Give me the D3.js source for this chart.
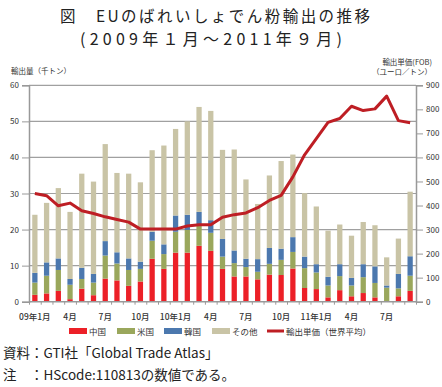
<!DOCTYPE html>
<html><head><meta charset="utf-8">
<script src="https://cdn.jsdelivr.net/npm/d3@7"></script>
<style>
body{margin:0;background:#fff;}
svg{display:block;font-family:"Noto Sans CJK JP","Noto Sans",sans-serif;}
</style></head>
<body><svg id="c" width="442" height="387"></svg>
<script>
const months = d3.range(33);
const tickLabels = ["09年1月","4月","7月","10月","10年1月","4月","7月","10月","11年1月","4月","7月"];
const china = [1.9,2.3,3.0,0.7,3.6,1.8,6.4,5.9,4.4,5.6,11.9,9.1, 13.6,13.6,15.5,14.1,9.1,7.0,7.0,6.2,7.5,7.4,9.2,3.8, 3.5,1.2,3.2,1.5,2.4,1.2,0,1.5,3.0];
const usa = [3.4,4.9,5.8,4.0,2.7,3.5,6.4,4.7,4.4,3.5,5.0,4.1, 5.8,6.3,5.6,5.0,3.4,3.7,2.6,2.1,3.0,4.2,4.6,5.5, 4.6,3.3,3.9,3.0,4.4,4.0,3.9,2.2,4.2];
const korea = [2.7,3.7,3.2,1.6,3.1,2.4,4.0,3.1,3.2,2.0,2.5,2.7, 4.5,4.2,3.8,3.5,4.9,3.5,2.3,3.5,4.4,3.1,4.1,3.2, 2.3,2.4,3.3,2.1,3.6,4.6,0.6,4.0,5.4];
const total = [24.1,27.4,31.5,24.9,35.5,33.3,43.7,35.7,35.5,33.1,42.0,43.3, 47.9,50.0,54.0,52.9,42.1,42.2,33.9,27.1,35.0,39.0,40.8,30.1, 26.4,19.7,21.4,18.3,22.1,21.2,12.3,17.5,30.5];
const price = [450,441,399,410,378,367,353,342,331,302,302,302, 302,315,320,320,351,362,369,391,421,442,519,611, 678,746,762,813,795,802,855,753,744];
const seriesNames = ["中国","米国","韓国","その他"];
const colors = ["#EC2027","#9AA75C","#4C78AE","#C9C4A6"];
const lineName = "輸出単価（世界平均）";
const lineColor = "#BE1E24";
const leftTicks = [0,10,20,30,40,50,60];
const rightTicks = [0,100,200,300,400,500,600,700,800,900];

const svg = d3.select("#c");
const L=29, R=416, T=85.3, B=301.7;
const x = d3.scaleBand().domain(months).range([L,R]).paddingInner(0.55).paddingOuter(0.275);
const y = d3.scaleLinear().domain([0,60]).range([B,T]);
const y2 = d3.scaleLinear().domain([0,900]).range([B,T]);

const other = total.map((t,i)=>+(t-china[i]-usa[i]-korea[i]).toFixed(2));
const rows = months.map(i=>({i, c:china[i], u:usa[i], k:korea[i], o:other[i]}));
const stack = d3.stack().keys(["c","u","k","o"])(rows);

// title
svg.append("text").attr("x",60).attr("y",21.5).attr("font-size",15.5).attr("fill","#222")
  .attr("textLength",310).attr("lengthAdjust","spacing").text("図　EUのばれいしょでん粉輸出の推移");
svg.append("text").attr("x",80).attr("y",44.5).attr("font-size",16).attr("fill","#222")
  .attr("textLength",262).attr("lengthAdjust","spacing").text("(2009年１月～2011年９月)");

// gridlines
svg.append("g").selectAll("line").data(leftTicks.slice(1)).join("line")
  .attr("x1",L).attr("x2",R).attr("y1",d=>y(d)).attr("y2",d=>y(d))
  .attr("stroke","#a0a0a0").attr("stroke-width",1.2);

// bars
svg.append("g").selectAll("g").data(stack).join("g").attr("fill",(d,i)=>colors[i])
  .selectAll("rect").data(d=>d).join("rect")
  .attr("x",d=>x(d.data.i)).attr("width",x.bandwidth())
  .attr("y",d=>y(d[1])).attr("height",d=>Math.max(0,y(d[0])-y(d[1])));

// line
svg.append("path").datum(price).attr("fill","none").attr("stroke",lineColor).attr("stroke-width",3).attr("stroke-linejoin","round")
  .attr("d",d3.line().x((d,i)=>x(i)+x.bandwidth()/2).y(d=>y2(d)));

// axes
const axL = svg.append("g").attr("transform",`translate(${L},0)`).call(d3.axisLeft(y).tickValues(leftTicks).tickSize(7).tickPadding(3));
const axR = svg.append("g").attr("transform",`translate(${R},0)`).call(d3.axisRight(y2).tickValues(rightTicks).tickSize(7).tickPadding(3));
const bandTicks = d3.range(34).map(i=>L + i*x.step());
const xb = d3.scaleLinear().domain([L,R]).range([L,R]);
const axB = svg.append("g").attr("transform",`translate(0,${B})`).call(d3.axisBottom(xb).tickValues(bandTicks).tickSize(3).tickFormat(""));
[axL,axR,axB].forEach(a=>{
  a.selectAll("path.domain").attr("stroke","#999").attr("stroke-width",1.5);
  a.selectAll(".tick line").attr("stroke","#999");
  a.selectAll("text").attr("font-size",8).attr("fill","#333").attr("font-family","'Noto Sans CJK JP',sans-serif");
});
axB.select("path.domain").attr("d",`M${L},0H${R}`);

// x labels
svg.append("g").selectAll("text").data(tickLabels).join("text")
  .attr("x",(d,j)=>x(j*3)+x.bandwidth()/2).attr("y",320).attr("text-anchor","middle")
  .attr("font-size",8.5).attr("fill","#333").attr("font-weight",500).text(d=>d);

// axis titles
svg.append("text").attr("x",11).attr("y",74).attr("font-size",7.5).attr("fill","#333").text("輸出量（千トン）");
svg.append("text").attr("x",432).attr("y",65).attr("text-anchor","end").attr("font-size",7.5).attr("fill","#333").text("輸出単価(FOB)");
svg.append("text").attr("x",432).attr("y",75).attr("text-anchor","end").attr("font-size",7.5).attr("fill","#333").text("（ユーロ／トン）");

// legend
const lg = svg.append("g");
const lx = [69,117,164,212];
seriesNames.forEach((n,i)=>{
  lg.append("rect").attr("x",lx[i]).attr("y",328).attr("width",18).attr("height",6).attr("fill",colors[i]);
  lg.append("text").attr("x",lx[i]+20).attr("y",335).attr("font-size",8.5).attr("fill","#333").text(n);
});
lg.append("line").attr("x1",267).attr("x2",284).attr("y1",331).attr("y2",331).attr("stroke",lineColor).attr("stroke-width",3);
lg.append("text").attr("x",286).attr("y",335).attr("font-size",8.5).attr("fill","#333").text(lineName);

// footer
svg.append("text").attr("x",3).attr("y",358).attr("font-size",13.5).attr("fill","#222").text("資料：GTI社「Global Trade Atlas」");
svg.append("text").attr("x",3).attr("y",380).attr("font-size",13.5).attr("fill","#222").text("注　：HScode:110813の数値である。");
</script></body></html>
